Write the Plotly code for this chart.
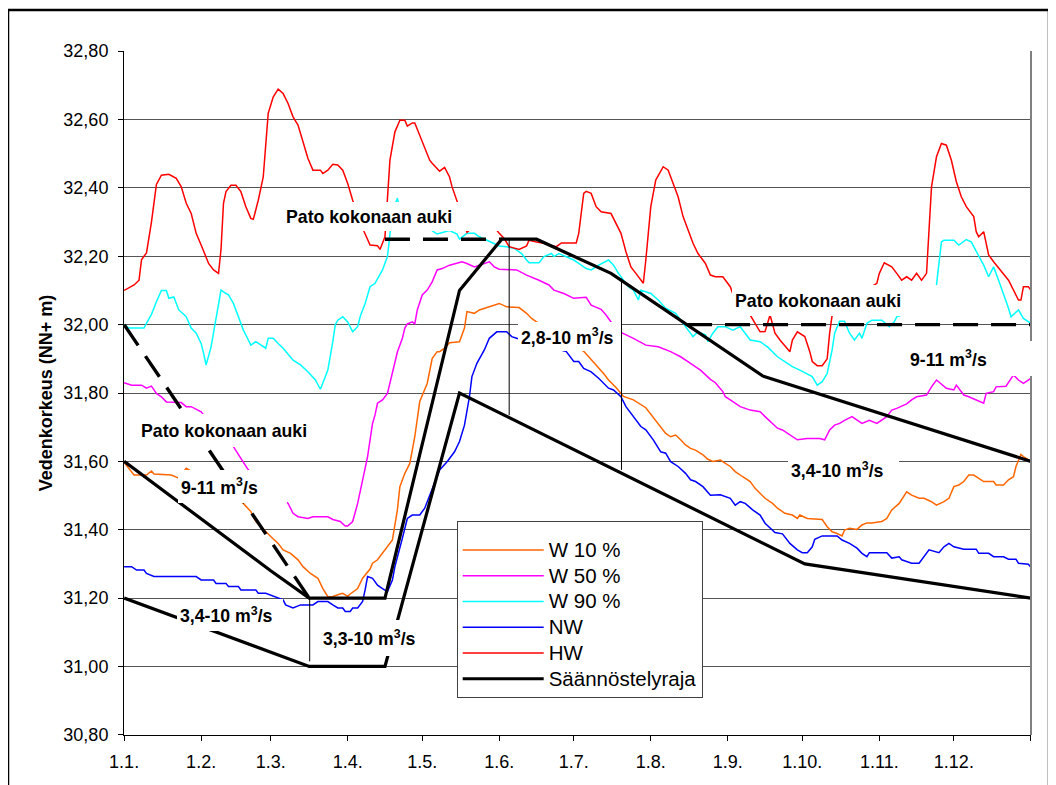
import plotly.graph_objects as go

FONT = "Liberation Sans, Arial, sans-serif"

# ---- axis ticks ----
month_days = [0, 31, 59, 90, 120, 151, 181, 212, 243, 273, 304, 334, 365]
month_labels = ["1.1.", "1.2.", "1.3.", "1.4.", "1.5.", "1.6.", "1.7.", "1.8.", "1.9.", "1.10.", "1.11.", "1.12.", ""]
y_ticks = [30.8, 31.0, 31.2, 31.4, 31.6, 31.8, 32.0, 32.2, 32.4, 32.6, 32.8]
y_labels = ["30,80", "31,00", "31,20", "31,40", "31,60", "31,80", "32,00", "32,20", "32,40", "32,60", "32,80"]

# ---- HW (red) ----
hw_days = [0,4,6,7,9,11,13,15,18,21,23,25,27,29,31,34,36,38,39,40,41,43,45,47,49,51,52,54,56,57,58,60,62,64,66,68,70,72,74,76,79,80,82,84,86,88,90,92,94,96,99,102,103,105,107,109,111,113,114,116,117,119,121,123,124,127,129,131,132,134,136,138,141,145,149,151,153,155,159,162,163,166,169,171,174,176,182,183,185,186,188,190,192,196,198,200,202,204,206,209,210,212,214,217,219,221,223,225,228,229,231,234,236,238,241,244,246,252,256,258,260,262,264,268,269,271,274,276,277,279,281,283,284,285,290,296,303,304,306,309,311,313,315,317,319,321,323,324,325,327,329,331,333,335,337,339,342,343,344,346,348,350,352,356,360,361,362,364,365]
hw_vals = [32.10,32.116,32.13,32.19,32.21,32.30,32.41,32.437,32.44,32.428,32.403,32.355,32.325,32.267,32.233,32.179,32.16,32.15,32.22,32.355,32.389,32.408,32.408,32.389,32.345,32.311,32.308,32.364,32.432,32.53,32.618,32.666,32.689,32.676,32.647,32.608,32.584,32.535,32.486,32.452,32.452,32.442,32.452,32.469,32.467,32.452,32.413,32.364,32.32,32.282,32.233,32.231,32.22,32.257,32.481,32.564,32.598,32.598,32.581,32.59,32.59,32.554,32.515,32.481,32.472,32.449,32.46,32.432,32.403,32.364,32.32,32.27,32.29,32.30,32.285,32.267,32.252,32.228,32.22,32.23,32.247,32.242,32.238,32.233,32.228,32.239,32.239,32.267,32.384,32.39,32.384,32.345,32.33,32.325,32.296,32.267,32.213,32.169,32.15,32.121,32.189,32.345,32.423,32.462,32.452,32.413,32.374,32.316,32.257,32.238,32.208,32.179,32.145,32.14,32.14,32.111,32.07,32.028,31.979,31.98,32.028,31.975,31.955,31.921,31.955,31.979,31.965,31.921,31.892,31.88,31.88,31.90,31.975,32.028,32.06,32.09,32.121,32.15,32.181,32.169,32.15,32.13,32.14,32.13,32.15,32.13,32.15,32.286,32.403,32.491,32.53,32.525,32.481,32.418,32.374,32.345,32.316,32.272,32.257,32.272,32.204,32.184,32.165,32.13,32.072,32.072,32.111,32.111,32.10]

# ---- W 90 % (cyan) ----
w90_days = [0,2,7,8,9,11,13,15,17,18,20,22,25,27,29,31,32,33,35,37,38,39,41,42,44,46,48,50,51,53,55,57,58,60,62,64,68,71,74,77,79,82,84,85,86,88,90,92,94,95,97,99,101,103,104,106,107,108,110,112,115,120,124,126,131,134,135,138,141,143,151,154,157,160,162,163,167,169,172,173,175,178,181,183,186,188,191,195,197,199,201,203,205,207,208,212,215,218,222,224,227,229,231,234,235,237,239,242,245,248,252,256,259,263,267,269,272,275,277,279,281,283,285,286,288,290,292,294,296,297,299,301,305,308,310,311,318,324,327,329,330,334,336,339,341,342,344,346,348,350,352,354,356,357,360,362,365]
w90_vals = [32.00,31.99,31.99,31.99,32.004,32.03,32.067,32.10,32.10,32.077,32.081,32.043,32.023,31.99,31.975,31.945,31.916,31.882,31.935,32.013,32.062,32.101,32.091,32.087,32.062,32.023,31.984,31.955,31.94,31.95,31.94,31.931,31.96,31.96,31.945,31.931,31.896,31.882,31.862,31.838,31.811,31.867,31.95,32.00,32.013,32.023,32.008,31.979,31.994,32.023,32.062,32.111,32.121,32.15,32.16,32.199,32.27,32.33,32.37,32.30,32.285,32.285,32.275,32.265,32.275,32.265,32.25,32.267,32.267,32.257,32.23,32.228,32.223,32.208,32.189,32.181,32.181,32.199,32.208,32.199,32.208,32.199,32.189,32.179,32.164,32.16,32.174,32.189,32.174,32.15,32.13,32.111,32.101,32.072,32.101,32.091,32.072,32.048,32.033,32.013,31.984,31.965,31.979,31.97,31.95,31.975,31.994,31.994,31.984,31.994,31.955,31.95,31.935,31.906,31.887,31.877,31.867,31.857,31.848,31.823,31.833,31.857,31.926,31.975,32.01,32.01,31.975,31.955,31.975,31.96,32.004,32.013,32.013,31.994,32.008,32.023,32.04,32.06,32.116,32.242,32.247,32.247,32.233,32.249,32.242,32.228,32.199,32.174,32.14,32.169,32.13,32.091,32.048,32.023,32.043,32.018,32.004]

# ---- W 50 % (magenta) ----
w50_days = [0,3,7,9,11,13,15,17,23,25,27,29,31,32,44,47,50,66,68,70,74,76,82,84,87,89,90,92,94,96,98,100,101,102,104,106,107,108,109,110,112,113,114,116,117,118,120,122,124,126,128,131,136,138,141,145,147,149,151,158,162,167,171,173,177,181,186,188,192,194,196,200,205,210,215,220,224,228,232,236,238,241,242,244,245,248,252,256,258,261,263,265,268,271,275,280,282,284,286,288,290,293,297,300,303,307,309,311,315,317,319,323,325,327,331,334,335,338,340,343,346,347,350,351,355,358,360,362,365]
w50_vals = [31.83,31.823,31.823,31.814,31.82,31.799,31.789,31.774,31.772,31.76,31.76,31.752,31.745,31.736,31.643,31.609,31.575,31.477,31.448,31.438,31.433,31.438,31.438,31.43,31.424,31.411,31.411,31.424,31.477,31.545,31.614,31.711,31.736,31.77,31.78,31.799,31.828,31.858,31.89,31.92,31.96,31.99,32.002,32.008,32.002,32.043,32.087,32.101,32.125,32.16,32.164,32.174,32.184,32.179,32.169,32.179,32.184,32.169,32.162,32.16,32.145,32.13,32.116,32.101,32.091,32.077,32.08,32.057,32.045,32.028,32.008,31.977,31.96,31.94,31.935,31.921,31.906,31.887,31.867,31.84,31.83,31.804,31.789,31.78,31.775,31.76,31.75,31.745,31.731,31.711,31.697,31.692,31.677,31.663,31.667,31.667,31.663,31.692,31.706,31.711,31.72,31.731,31.711,31.72,31.711,31.731,31.75,31.755,31.768,31.78,31.789,31.794,31.818,31.838,31.814,31.809,31.823,31.794,31.789,31.78,31.77,31.799,31.804,31.818,31.82,31.853,31.838,31.828,31.843]

# ---- W 10 % (orange) ----
w10_days = [0,2,4,9,11,12,19,22,25,48,51,53,57,59,62,64,67,70,72,75,78,80,82,84,87,88,90,91,94,96,99,100,102,104,106,108,110,111,113,115,117,119,122,124,126,127,129,131,135,137,138,141,143,146,149,151,154,159,162,164,166,185,187,190,193,195,198,201,205,210,214,216,218,220,222,224,226,228,230,233,235,237,240,244,246,249,252,254,256,258,261,263,266,269,271,272,275,281,283,285,287,289,290,292,295,297,299,301,305,307,309,312,315,317,320,322,325,327,330,332,334,336,338,340,342,344,346,350,351,354,356,358,359,361,362,365]
w10_vals = [31.597,31.58,31.56,31.56,31.572,31.563,31.56,31.551,31.58,31.477,31.453,31.424,31.394,31.38,31.36,31.341,31.331,31.312,31.292,31.272,31.258,31.228,31.204,31.205,31.212,31.214,31.205,31.212,31.228,31.258,31.285,31.302,31.312,31.331,31.351,31.37,31.458,31.526,31.565,31.594,31.672,31.775,31.828,31.901,31.921,31.921,31.931,31.947,31.95,31.99,32.038,32.033,32.043,32.05,32.057,32.062,32.052,32.05,32.033,32.018,32.008,31.922,31.906,31.882,31.857,31.838,31.816,31.79,31.78,31.757,31.721,31.702,31.682,31.672,31.677,31.663,31.648,31.638,31.633,31.619,31.606,31.60,31.604,31.585,31.57,31.555,31.541,31.521,31.507,31.492,31.477,31.463,31.448,31.443,31.433,31.443,31.433,31.43,31.409,31.394,31.389,31.382,31.399,31.404,31.401,31.414,31.42,31.42,31.424,31.433,31.458,31.477,31.511,31.501,31.492,31.492,31.482,31.472,31.482,31.492,31.526,31.531,31.541,31.56,31.56,31.551,31.541,31.541,31.531,31.531,31.546,31.555,31.585,31.62,31.614,31.60]

# ---- NW (blue) ----
nw_days = [0,3,5,8,9,12,29,31,36,37,41,42,46,47,53,54,57,61,64,65,68,71,76,78,82,84,86,88,89,91,92,94,96,97,98,100,102,104,106,108,109,112,114,116,119,121,123,125,127,130,133,135,137,139,140,142,145,147,150,154,156,158,178,181,183,185,188,191,195,197,200,202,205,208,210,213,216,218,220,223,226,228,230,233,236,240,244,246,248,250,253,256,258,261,262,265,268,271,273,275,277,278,281,287,289,292,295,297,299,300,307,309,312,313,317,320,321,324,328,330,332,334,338,343,344,348,350,354,356,359,360,364,365]
nw_vals = [31.292,31.292,31.282,31.282,31.272,31.263,31.263,31.253,31.253,31.243,31.243,31.234,31.234,31.224,31.224,31.214,31.214,31.202,31.195,31.18,31.171,31.18,31.18,31.19,31.19,31.18,31.171,31.171,31.161,31.161,31.171,31.171,31.19,31.224,31.263,31.258,31.238,31.228,31.219,31.253,31.292,31.375,31.433,31.443,31.443,31.463,31.501,31.541,31.575,31.599,31.628,31.658,31.706,31.789,31.848,31.887,31.926,31.96,31.979,31.979,31.965,31.96,31.921,31.892,31.892,31.872,31.862,31.843,31.814,31.809,31.789,31.76,31.731,31.702,31.692,31.663,31.628,31.624,31.599,31.585,31.565,31.546,31.541,31.526,31.501,31.502,31.492,31.472,31.482,31.477,31.458,31.443,31.419,31.399,31.392,31.388,31.36,31.341,31.333,31.333,31.35,31.372,31.382,31.382,31.37,31.36,31.346,31.331,31.321,31.333,31.333,31.317,31.321,31.312,31.302,31.302,31.312,31.341,31.333,31.35,31.36,31.35,31.343,31.343,31.331,31.331,31.321,31.321,31.314,31.314,31.302,31.299,31.29]

# ---- Säännöstelyraja (regulation limits) ----
upper_days = [0, 59, 74.5, 105, 135, 152, 166, 196, 257, 365]
upper_vals = [31.60, 31.28, 31.20, 31.20, 32.10, 32.25, 32.25, 32.15, 31.85, 31.60]
lower_days = [0, 59, 74.5, 105, 135, 274, 365]
lower_vals = [31.20, 31.04, 31.00, 31.00, 31.80, 31.30, 31.20]

# dashed "dam fully open" limits
dash1_days = [0, 74.5]
dash1_vals = [32.00, 31.20]
dash2_days = [105, 152]
dash2_vals = [32.25, 32.25]
dash3_days = [226.6, 365]
dash3_vals = [32.00, 32.00]

# thin vertical marker lines
vline_days = [74.7, 155.0, 200.2]
vline_top = [31.20, 32.25, 32.135]
vline_bottom = [31.015, 31.735, 31.575]

# labels: text, box left (day), box centre (value), inner width, inner height
labels = [
    ("Pato kokonaan auki", 63.9, 32.316, 209, 23),
    ("Pato kokonaan auki", 244.6, 32.0705, 199, 25),
    ("Pato kokonaan auki", 5.5, 31.6904, 176, 27),
    ("9-11 m<sup>3</sup>/s", 21.7, 31.5266, 103, 27),
    ("3,4-10 m<sup>3</sup>/s", 21.2, 31.1509, 100, 26),
    ("3,3-10 m<sup>3</sup>/s", 78.9, 31.0836, 104, 30),
    ("2,8-10 m<sup>3</sup>/s", 158.4, 31.9652, 97, 23),
    ("9-11 m<sup>3</sup>/s", 315.2, 31.9009, 120, 29),
    ("3,4-10 m<sup>3</sup>/s", 267.3, 31.5749, 105, 26),
]

LEG_TXT = '<span style="font-size:20.5px">{}</span>'

fig = go.Figure()

series = [
    ("W 10 %", w10_days, w10_vals, "#FF6600"),
    ("W 50 %", w50_days, w50_vals, "#FF00FF"),
    ("W 90 %", w90_days, w90_vals, "#00FFFF"),
    ("NW", nw_days, nw_vals, "#0000FF"),
    ("HW", hw_days, hw_vals, "#FF0000"),
]
for name, d, v, c in series:
    fig.add_trace(go.Scatter(x=d, y=v, mode="lines", name=LEG_TXT.format(name),
                             line=dict(color=c, width=1.5), hoverinfo="skip"))

fig.add_trace(go.Scatter(x=upper_days, y=upper_vals, mode="lines",
                         name=LEG_TXT.format("Säännöstelyraja"),
                         legendgroup="raja", line=dict(color="black", width=3.2), hoverinfo="skip"))
fig.add_trace(go.Scatter(x=lower_days, y=lower_vals, mode="lines", name="Säännöstelyraja",
                         legendgroup="raja", showlegend=False,
                         line=dict(color="black", width=3.2), hoverinfo="skip"))

for d, v in [(dash1_days, dash1_vals), (dash2_days, dash2_vals), (dash3_days, dash3_vals)]:
    fig.add_trace(go.Scatter(x=d, y=v, mode="lines", showlegend=False, hoverinfo="skip",
                             line=dict(color="black", width=3.4, dash="25px,13px")))

for d, t, b in zip(vline_days, vline_top, vline_bottom):
    fig.add_trace(go.Scatter(x=[d, d], y=[t, b], mode="lines", showlegend=False, hoverinfo="skip",
                             line=dict(color="black", width=1)))

for text, x, y, w, h in labels:
    fig.add_annotation(x=x, y=y, xref="x", yref="y", xanchor="left", yanchor="middle",
                       text="<b>" + text + "</b>", showarrow=False, bgcolor="white",
                       borderpad=3, borderwidth=0, width=w, height=h, align="left",
                       valign="middle", font=dict(family=FONT, size=17.7, color="black"))

# screen-pixel geometry of the plot area (page body adds an 8px offset)
OFF = 8
PL, PR, PT, PB = 124, 1031, 51, 735
def px(xp):
    return (xp - PL) / (PR - PL)
def py(yp):
    return (PB - yp) / (PB - PT)

fig.add_shape(type="line", xref="paper", yref="paper", x0=1, x1=1, y0=0, y1=1,
              line=dict(color="#808080", width=2))
fig.add_shape(type="rect", xref="paper", yref="paper", x0=px(8), x1=px(1049), y0=py(790), y1=py(10),
              line=dict(color="black", width=2.5), fillcolor="rgba(0,0,0,0)")

fig.update_layout(
    width=1056, height=785,
    margin=dict(l=PL - OFF, r=1056 - PR + OFF, t=PT - OFF, b=785 - PB + OFF),
    paper_bgcolor="white", plot_bgcolor="white",
    font=dict(family=FONT, size=18, color="black"),
    xaxis=dict(range=[-0.05, 365.05], tickvals=month_days, ticktext=month_labels,
               ticks="outside", ticklen=5, tickcolor="black", showline=True,
               linecolor="black", linewidth=1, showgrid=False, zeroline=False,
               tickfont=dict(size=18), ticklabelstandoff=5),
    yaxis=dict(range=[30.7995, 32.8005], tickvals=y_ticks, ticktext=y_labels,
               ticks="outside", ticklen=5, tickcolor="black", showline=True,
               linecolor="black", linewidth=1, showgrid=True, gridcolor="#555555",
               gridwidth=1, zeroline=False, tickfont=dict(size=18), ticklabelstandoff=6,
               title=dict(text="<b>Vedenkorkeus (NN+ m)</b>", font=dict(size=18), standoff=6)),
    legend=dict(x=px(456.7), y=py(520.7), xanchor="left", yanchor="top",
                bgcolor="white", bordercolor="#404040", borderwidth=1,
                font=dict(family=FONT, size=17.5, color="black"), itemwidth=81,
                tracegroupgap=0,
                title=dict(text="&nbsp;", font=dict(family=FONT, size=8))),
    showlegend=True,
)

fig.write_html("out.html")
